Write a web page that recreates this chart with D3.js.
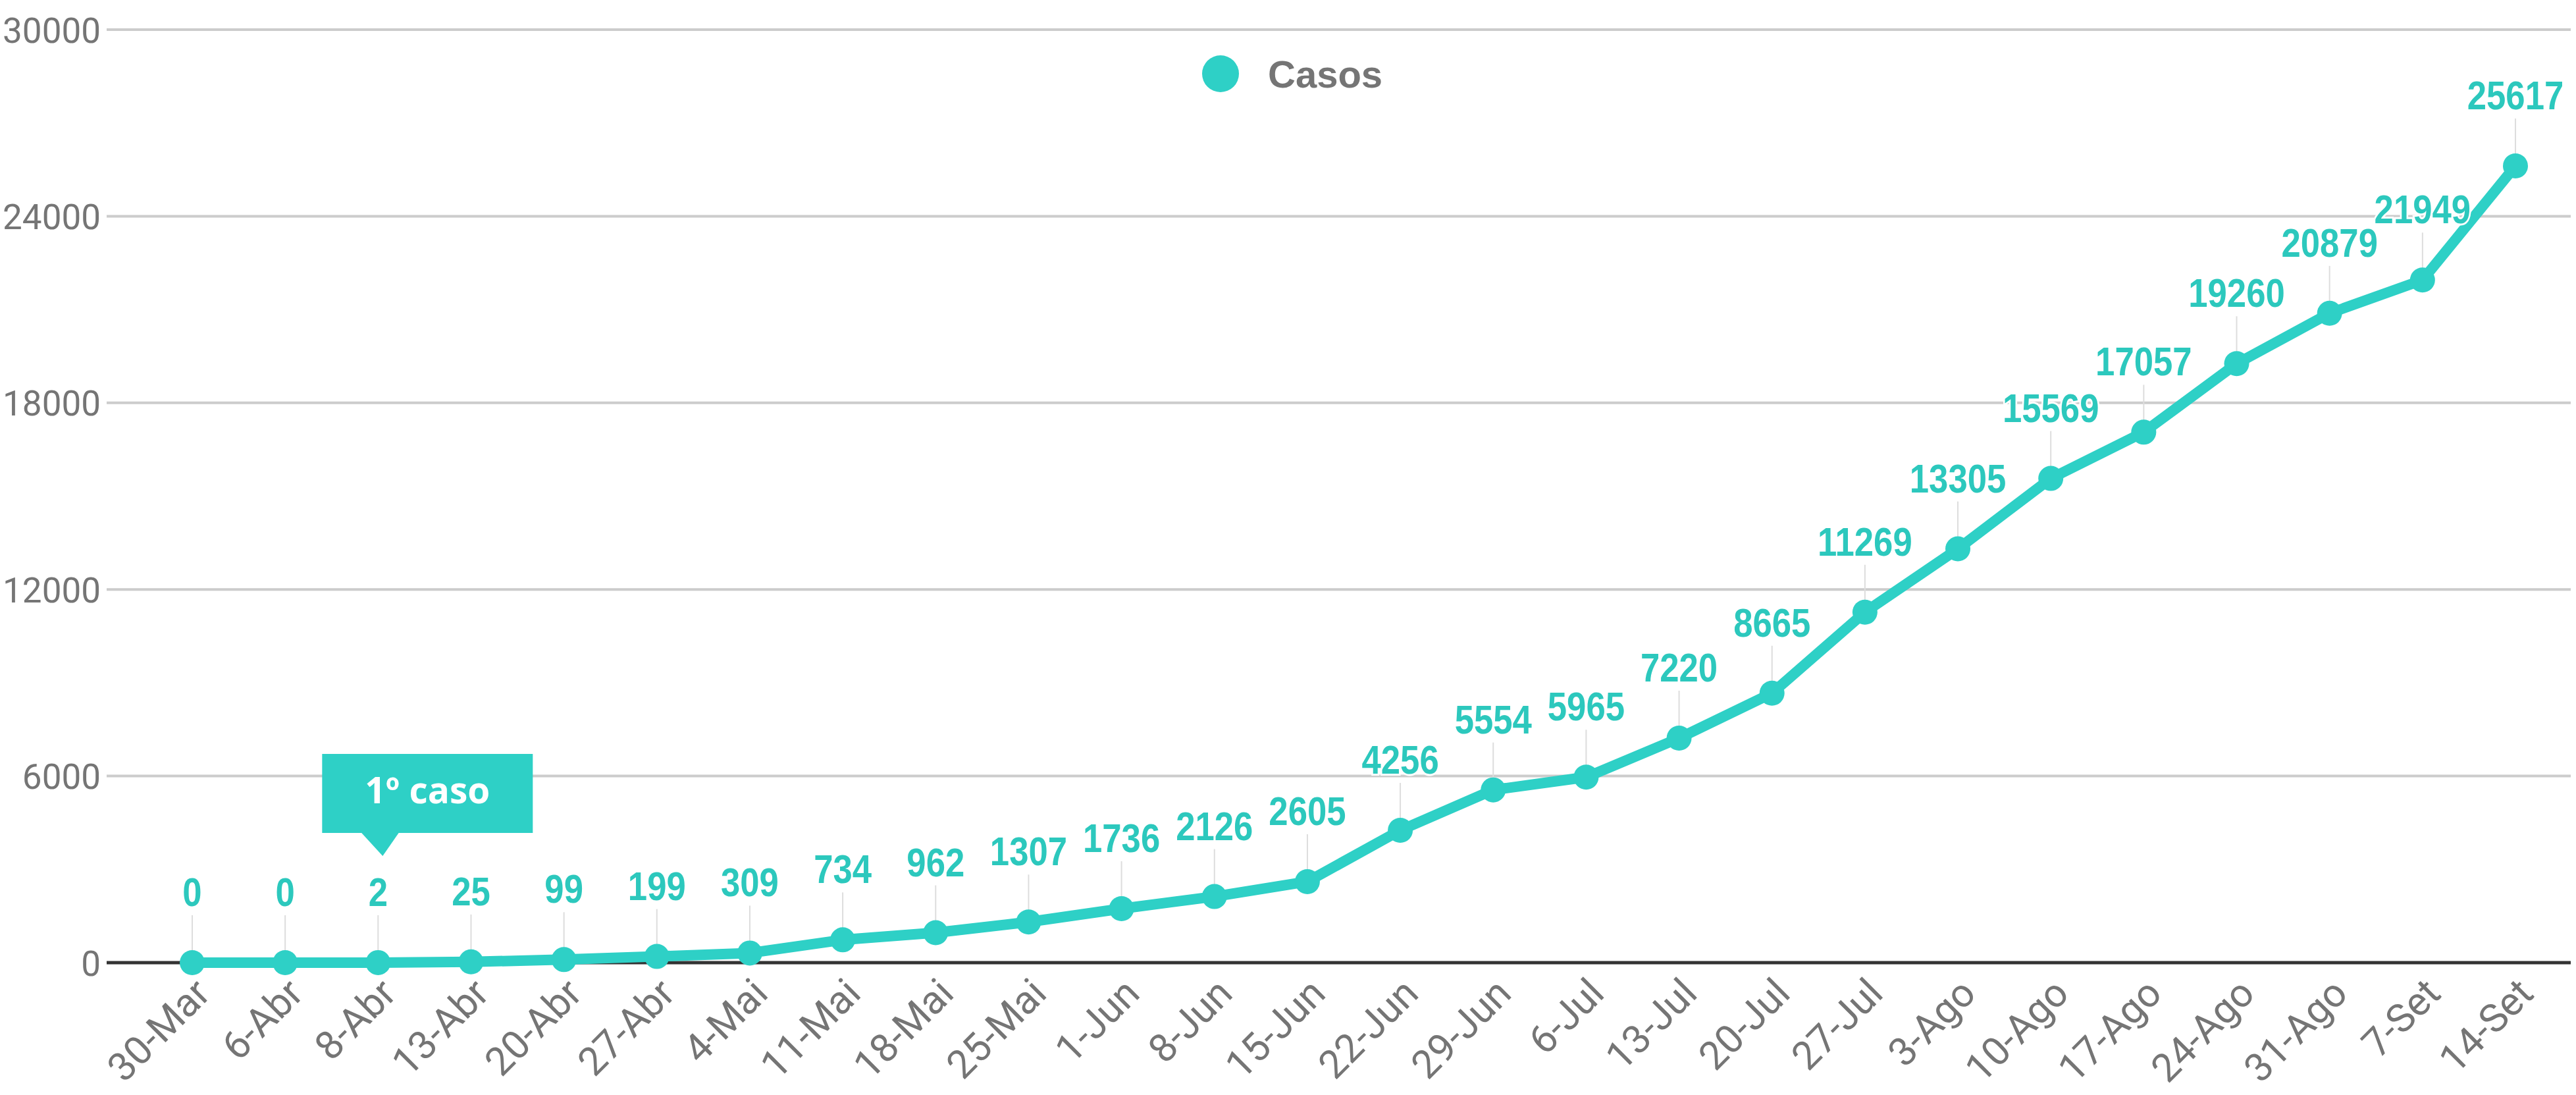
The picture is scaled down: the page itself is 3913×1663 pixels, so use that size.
<!DOCTYPE html>
<html>
<head>
<meta charset="utf-8">
<script src="https://cdn.jsdelivr.net/npm/d3@7"></script>
<style>
  html, body { margin: 0; padding: 0; background: #ffffff; }
  svg { display: block; }
</style>
</head>
<body>
<script>
  const WIDTH = 3913;
  const HEIGHT = 1663;

  // weekly dates (x categories)
  const dates = ['30-Mar', '6-Abr', '8-Abr', '13-Abr', '20-Abr', '27-Abr', '4-Mai', '11-Mai',
    '18-Mai', '25-Mai', '1-Jun', '8-Jun', '15-Jun', '22-Jun', '29-Jun', '6-Jul', '13-Jul',
    '20-Jul', '27-Jul', '3-Ago', '10-Ago', '17-Ago', '24-Ago', '31-Ago', '7-Set', '14-Set'];

  // accumulated cases
  const casos = [0, 0, 2, 25, 99, 199, 309, 734, 962, 1307, 1736, 2126, 2605, 4256, 5554,
    5965, 7220, 8665, 11269, 13305, 15569, 17057, 19260, 20879, 21949, 25617];

  const yTicks = [0, 6000, 12000, 18000, 24000, 30000];
  const SERIES_NAME = 'Casos';
  const NOTE_TEXT = '1º caso';
  const NOTE_DATE = '8-Abr';

  const TEAL = '#2ed0c6';
  const GRAY_TEXT = '#757575';

  const svg = d3.select('body')
    .append('svg')
      .attr('width', WIDTH)
      .attr('height', HEIGHT);

  const x = d3.scalePoint()
    .domain(dates)
    .range([292, 3821]);

  const y = d3.scaleLinear()
    .domain([0, 30000])
    .range([1462, 45]);

  const gridLeft = 162;
  const gridRight = 3905;

  /*
    Grid + y axis
  */
  const yAxis = svg.append('g')
    .call(d3.axisLeft(y).tickValues(yTicks).tickSize(0).tickPadding(0).tickFormat(d3.format('d')));
  yAxis.select('.domain').remove();
  yAxis.selectAll('.tick line').remove();
  yAxis.selectAll('.tick text')
    .attr('x', 153)
    .attr('dy', '0.36em')
    .attr('text-anchor', 'end')
    .attr('fill', GRAY_TEXT)
    .style('font-family', 'Roboto, sans-serif')
    .style('font-size', '53px');

  svg.append('g')
    .selectAll('line')
    .data(yTicks.filter(d => d > 0))
    .join('line')
      .attr('x1', gridLeft)
      .attr('x2', gridRight)
      .attr('y1', d => y(d))
      .attr('y2', d => y(d))
      .attr('stroke', '#cccccc')
      .attr('stroke-width', 4);

  // baseline
  svg.append('line')
    .attr('x1', gridLeft)
    .attr('x2', gridRight)
    .attr('y1', y(0))
    .attr('y2', y(0))
    .attr('stroke', '#333333')
    .attr('stroke-width', 5);

  /*
    X axis labels, rotated
  */
  const xAxis = svg.append('g')
    .attr('transform', `translate(0,${y(0)})`)
    .call(d3.axisBottom(x).tickSize(0));
  xAxis.select('.domain').remove();
  xAxis.selectAll('.tick text')
    .attr('text-anchor', 'end')
    .attr('fill', GRAY_TEXT)
    .style('font-family', 'Roboto, sans-serif')
    .style('font-size', '60px')
    .attr('y', 0)
    .attr('dy', 0)
    .attr('transform', 'translate(30,50) rotate(-45)');

  /*
    Leader lines + line + points
  */
  const LABEL_OFFSET = 86;

  svg.append('g')
    .selectAll('line')
    .data(casos)
    .join('line')
      .attr('x1', (d, i) => x(dates[i]))
      .attr('x2', (d, i) => x(dates[i]))
      .attr('y1', d => y(d) - LABEL_OFFSET + 14)
      .attr('y2', d => y(d) - 10)
      .attr('stroke', '#dddddd')
      .attr('stroke-width', 2);

  const line = d3.line()
    .x((d, i) => x(dates[i]))
    .y(d => y(d));

  svg.append('path')
    .datum(casos)
    .attr('d', line)
    .attr('fill', 'none')
    .attr('stroke', TEAL)
    .attr('stroke-width', 16)
    .attr('stroke-linejoin', 'round');

  svg.append('g')
    .selectAll('circle')
    .data(casos)
    .join('circle')
      .attr('cx', (d, i) => x(dates[i]))
      .attr('cy', d => y(d))
      .attr('r', 19)
      .attr('fill', TEAL);

  // value labels (slightly condensed bold)
  svg.append('g')
    .selectAll('text')
    .data(casos)
    .join('text')
      .attr('transform', (d, i) => `translate(${x(dates[i])},${y(d) - LABEL_OFFSET}) scale(0.85,1)`)
      .attr('text-anchor', 'middle')
      .attr('fill', '#2cc8bd')
      .attr('stroke', '#ffffff')
      .attr('stroke-width', 6)
      .attr('paint-order', 'stroke')
      .style('font-family', '"Liberation Sans", Arial, sans-serif')
      .style('font-weight', 'bold')
      .style('font-size', '62px')
      .text(d => d);

  /*
    Legend
  */
  const legend = svg.append('g').attr('transform', 'translate(1854,112)');
  legend.append('circle')
    .attr('r', 28)
    .attr('fill', TEAL);
  legend.append('text')
    .attr('x', 72)
    .attr('dy', '0.36em')
    .attr('fill', GRAY_TEXT)
    .style('font-family', '"Liberation Sans", Arial, sans-serif')
    .style('font-weight', 'bold')
    .style('font-size', '58px')
    .text(SERIES_NAME);

  /*
    "1º caso" callout
  */
  const nx = x(NOTE_DATE);
  const note = svg.append('g');
  note.append('rect')
    .attr('x', nx - 85)
    .attr('y', 1145)
    .attr('width', 320)
    .attr('height', 120)
    .attr('fill', TEAL);
  note.append('path')
    .attr('d', `M${nx - 26},1264 L${nx + 32},1264 L${nx + 7},1300 Z`)
    .attr('fill', TEAL);
  note.append('text')
    .attr('x', nx + 75)
    .attr('y', 1220)
    .attr('text-anchor', 'middle')
    .attr('fill', '#ffffff')
    .style('font-family', '"Open Sans", sans-serif')
    .style('font-weight', 'bold')
    .style('font-size', '55px')
    .text(NOTE_TEXT);
</script>
</body>
</html>
